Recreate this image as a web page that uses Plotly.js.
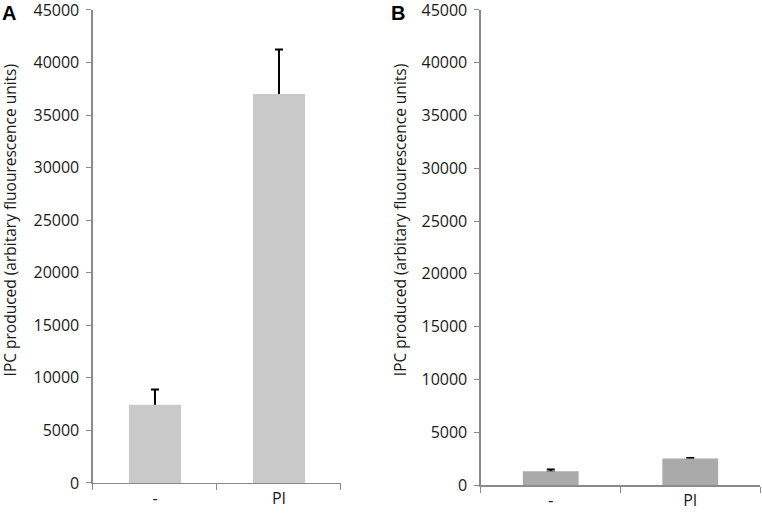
<!DOCTYPE html>
<html>
<head>
<meta charset="utf-8">
<script src="https://cdn.plot.ly/plotly-3.0.1.min.js"></script>
<style>
  html, body { margin: 0; padding: 0; background: #fff; }
  #chart { width: 762px; height: 518px; }
</style>
</head>
<body>
<div id="chart"></div>
<script>
// categories shared by both panels
var categories = ['-', 'PI'];

// panel A values and upper error
var valuesA = [7450, 37000];
var errorsA = [1450, 4250];

// panel B values and upper error
var valuesB = [1300, 2500];
var errorsB = [180, 60];

var yTicks = [0, 5000, 10000, 15000, 20000, 25000, 30000, 35000, 40000, 45000];
var yTitle = 'IPC produced (arbitary fluourescence units)';

var font = { family: 'Open Sans, sans-serif', size: 16, color: '#1a1a1a' };
var titleFont = { family: 'Open Sans, sans-serif', size: 15.5, color: '#1a1a1a' };
var letterFont = { family: 'Liberation Sans, Arial, sans-serif', size: 20, color: '#000' };

// error bars sit on an invisible copy of the bars, drawn underneath,
// so the lower cap is hidden by the real bar
function errTrace(vals, errs, w, xa, ya) {
  return {
    x: categories, y: vals, type: 'bar', width: w,
    marker: { color: 'rgba(0,0,0,0)' },
    error_y: { type: 'data', array: errs, arrayminus: vals.map(function (v) { return v * 0.05; }),
               symmetric: false, color: '#000', thickness: 2, width: 4 },
    xaxis: xa, yaxis: ya, hoverinfo: 'skip'
  };
}

function barTrace(vals, w, color, xa, ya) {
  return {
    x: categories, y: vals, type: 'bar', width: w,
    marker: { color: color },
    xaxis: xa, yaxis: ya, hoverinfo: 'x+y'
  };
}

function yAxis(domain, anchor) {
  return {
    domain: domain,
    anchor: anchor,
    range: [0, 45000],
    tickvals: yTicks,
    ticktext: yTicks.map(String),
    showgrid: false,
    zeroline: false,
    showline: true,
    linecolor: '#8a8a8a',
    linewidth: 1.5,
    ticks: 'outside',
    ticklen: 5,
    tickcolor: '#8a8a8a',
    tickfont: font,
    ticklabelstandoff: 4,
    ticklabeloverflow: 'allow',
    fixedrange: true
  };
}

function xAxis(domain, anchor) {
  return {
    domain: domain,
    anchor: anchor,
    type: 'category',
    showgrid: false,
    zeroline: false,
    showline: true,
    linecolor: '#8a8a8a',
    linewidth: 1.5,
    ticks: 'outside',
    tickson: 'boundaries',
    ticklen: 6,
    tickcolor: '#8a8a8a',
    tickfont: font,
    fixedrange: true
  };
}

function yTitleNote(x) {
  return { text: yTitle, x: x, y: 0.575, xref: 'paper', yref: 'paper',
           xanchor: 'center', yanchor: 'middle', textangle: -90,
           showarrow: false, font: titleFont };
}

var layout = {
  width: 762,
  height: 518,
  margin: { l: 0, r: 0, t: 0, b: 0 },
  paper_bgcolor: '#fff',
  plot_bgcolor: '#fff',
  showlegend: false,
  barmode: 'overlay',
  font: font,
  xaxis: xAxis([0.122, 0.4475], 'y'),
  yaxis: yAxis([0.0676, 0.9807], 'x'),
  xaxis2: xAxis([0.6312, 0.9974], 'y2'),
  yaxis2: yAxis([0.0637, 0.9807], 'x2'),
  annotations: [
    yTitleNote(0.0135),
    yTitleNote(0.525),
    { text: '<b>A</b>', x: 0.0, y: 1.0, xref: 'paper', yref: 'paper',
      xanchor: 'left', yanchor: 'top', showarrow: false, font: letterFont },
    { text: '<b>B</b>', x: 0.511, y: 1.0, xref: 'paper', yref: 'paper',
      xanchor: 'left', yanchor: 'top', showarrow: false, font: letterFont }
  ]
};

var data = [
  errTrace(valuesA, errorsA, 0.42, 'x', 'y'),
  barTrace(valuesA, 0.42, '#c9c9c9', 'x', 'y'),
  errTrace(valuesB, errorsB, 0.4, 'x2', 'y2'),
  barTrace(valuesB, 0.4, '#aaaaaa', 'x2', 'y2')
];

Plotly.newPlot('chart', data, layout, { displayModeBar: false, staticPlot: true });
</script>
</body>
</html>
